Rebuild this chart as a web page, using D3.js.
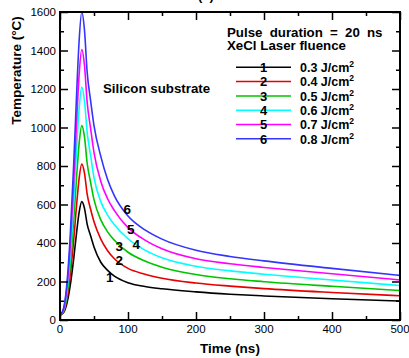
<!DOCTYPE html>
<html lang="en">
<head>
<meta charset="UTF-8" />
<title>Temperature vs time</title>
<style>
  body { margin: 0; background: #fff; }
  svg { display: block; font-family: "Liberation Sans", Arial, sans-serif; }
  .bold { font-weight: bold; }
</style>
</head>
<body>
<svg id="chart" width="409" height="358"></svg>
<script src="https://d3js.org/d3.v7.min.js"></script>
<script>
// time samples (ns)
const times = [0, 5, 10, 15, 20, 25, 28, 32, 36, 40, 45, 50, 60, 70, 80, 100, 125, 150, 200, 250, 300, 400, 500];

// temperatures (°C), one list per fluence
const t03 = [25, 37, 84, 178, 314, 473, 556, 615, 580, 497, 438, 379, 300, 258, 228, 194, 174, 162, 146, 134, 125, 110, 99];
const t04 = [25, 41, 104, 229, 410, 622, 732, 810, 763, 653, 575, 510, 420, 360, 318, 268, 238, 217, 192, 176, 163, 143, 126];
const t05 = [25, 45, 124, 281, 508, 774, 912, 1010, 951, 813, 715, 625, 520, 458, 414, 352, 306, 274, 236, 214, 199, 175, 153];
const t06 = [25, 49, 144, 333, 606, 926, 1092, 1210, 1139, 973, 855, 740, 615, 545, 495, 422, 363, 323, 279, 255, 238, 208, 179];
const t07 = [25, 53, 163, 384, 701, 1074, 1267, 1405, 1322, 1129, 995, 870, 720, 630, 568, 480, 415, 370, 318, 292, 273, 240, 208];
const t08 = [25, 57, 183, 435, 797, 1222, 1443, 1600, 1506, 1285, 1140, 1010, 850, 730, 645, 540, 468, 420, 362, 330, 307, 268, 232];

const seriesNames = ['1', '2', '3', '4', '5', '6'];
const fluences = ['0.3', '0.4', '0.5', '0.6', '0.7', '0.8'];
const colors = ['#000000', '#e60000', '#00c400', '#00ffff', '#ff00ff', '#3434ff'];
const series = [t03, t04, t05, t06, t07, t08];

// where the curve numbers sit (time, temperature)
const labelTimes = [73, 87, 87, 112, 104, 99];
const labelTemps = [224, 311, 384, 395, 473, 577];

const xTicks = [0, 100, 200, 300, 400, 500];
const yTicks = [0, 200, 400, 600, 800, 1000, 1200, 1400, 1600];

const svg = d3.select('#chart');
const mLeft = 60, mRight = 400, mTop = 12, mBottom = 320;

const x = d3.scaleLinear().domain([0, 500]).range([mLeft, mRight]);
const y = d3.scaleLinear().domain([0, 1600]).range([mBottom, mTop]);

const line = d3.line()
  .x((d, i) => x(times[i]))
  .y(d => y(d))
  .curve(d3.curveMonotoneX);

const plot = svg.append('g');
plot.append('clipPath').attr('id', 'clip')
  .append('rect').attr('x', mLeft).attr('y', mTop - 2).attr('width', mRight - mLeft).attr('height', mBottom - mTop + 2);

plot.append('g').attr('clip-path', 'url(#clip)')
  .selectAll('path')
  .data(series)
  .join('path')
  .attr('d', d => line(d))
  .attr('fill', 'none')
  .attr('stroke', (d, i) => colors[i])
  .attr('stroke-width', 1.6);

// axes with inward ticks
const minorX = d3.range(0, 501, 50).filter(v => v % 100 !== 0);
const minorY = d3.range(0, 1601, 100).filter(v => v % 200 !== 0);

function tickAxis(axisFn, scale, ticks, size) {
  return axisFn(scale).tickValues(ticks).tickSize(size).tickFormat('');
}

svg.append('g').attr('transform', `translate(0,${mBottom})`)
  .call(tickAxis(d3.axisTop, x, xTicks, 8));
svg.append('g').attr('transform', `translate(0,${mBottom})`)
  .call(tickAxis(d3.axisTop, x, minorX, 4));
svg.append('g').attr('transform', `translate(0,${mTop})`)
  .call(tickAxis(d3.axisBottom, x, xTicks, 8));
svg.append('g').attr('transform', `translate(0,${mTop})`)
  .call(tickAxis(d3.axisBottom, x, minorX, 4));
svg.append('g').attr('transform', `translate(${mLeft},0)`)
  .call(tickAxis(d3.axisRight, y, yTicks, 8));
svg.append('g').attr('transform', `translate(${mLeft},0)`)
  .call(tickAxis(d3.axisRight, y, minorY, 4));
svg.append('g').attr('transform', `translate(${mRight},0)`)
  .call(tickAxis(d3.axisLeft, y, yTicks, 8));
svg.append('g').attr('transform', `translate(${mRight},0)`)
  .call(tickAxis(d3.axisLeft, y, minorY, 4));

svg.selectAll('.domain').remove();
svg.selectAll('.tick line').attr('stroke', '#000').attr('stroke-width', 1.5);

svg.append('rect')
  .attr('x', mLeft).attr('y', mTop)
  .attr('width', mRight - mLeft).attr('height', mBottom - mTop)
  .attr('fill', 'none').attr('stroke', '#000').attr('stroke-width', 2);

// tick labels
svg.append('g').selectAll('text').data(xTicks).join('text')
  .attr('x', d => x(d)).attr('y', mBottom + 13)
  .attr('text-anchor', 'middle').attr('font-size', 11.5)
  .text(d => d);

svg.append('g').selectAll('text').data(yTicks).join('text')
  .attr('x', mLeft - 4).attr('y', d => y(d) + 4)
  .attr('text-anchor', 'end').attr('font-size', 11.5)
  .text(d => d);

// axis titles
svg.append('text').attr('class', 'bold')
  .attr('x', (mLeft + mRight) / 2).attr('y', 353)
  .attr('text-anchor', 'middle').attr('font-size', 13.5)
  .text('Time (ns)');

svg.append('text').attr('class', 'bold')
  .attr('transform', 'translate(21,70.5) rotate(-90)')
  .attr('text-anchor', 'middle').attr('font-size', 13.5)
  .text('Temperature (°C)');

svg.append('text').attr('class', 'bold')
  .attr('x', 206).attr('y', -0.5)
  .attr('text-anchor', 'middle').attr('font-size', 13)
  .text('(a)');

svg.append('text').attr('class', 'bold')
  .attr('x', 103).attr('y', 93).attr('font-size', 13.3)
  .text('Silicon substrate');

// curve numbers
svg.append('g').selectAll('text').data(seriesNames).join('text')
  .attr('class', 'bold')
  .attr('x', (d, i) => x(labelTimes[i])).attr('y', (d, i) => y(labelTemps[i]) + 5)
  .attr('text-anchor', 'middle').attr('font-size', 13.5)
  .text(d => d);

// legend
svg.append('text').attr('class', 'bold')
  .attr('x', 227).attr('y', 36.5).attr('font-size', 13.3)
  .attr('word-spacing', 3.5)
  .text('Pulse duration = 20 ns');
svg.append('text').attr('class', 'bold')
  .attr('x', 227).attr('y', 49.5).attr('font-size', 13.3)
  .text('XeCl Laser fluence');

const leg = svg.append('g').selectAll('g').data(seriesNames).join('g')
  .attr('transform', (d, i) => `translate(0,${67.3 + i * 14.3})`);
leg.append('line')
  .attr('x1', 236).attr('x2', 291).attr('y1', 0).attr('y2', 0)
  .attr('stroke', (d, i) => colors[i]).attr('stroke-width', 1.5);
leg.append('text').attr('class', 'bold')
  .attr('x', 263.5).attr('y', 4.8).attr('text-anchor', 'middle').attr('font-size', 13)
  .text(d => d);
const lt = leg.append('text').attr('class', 'bold')
  .attr('x', 300).attr('y', 4.8).attr('font-size', 12.5);
lt.append('tspan').text((d, i) => fluences[i] + ' J/cm');
lt.append('tspan').attr('font-size', 8.5).attr('dy', -5).text('2');
</script>
</body>
</html>
